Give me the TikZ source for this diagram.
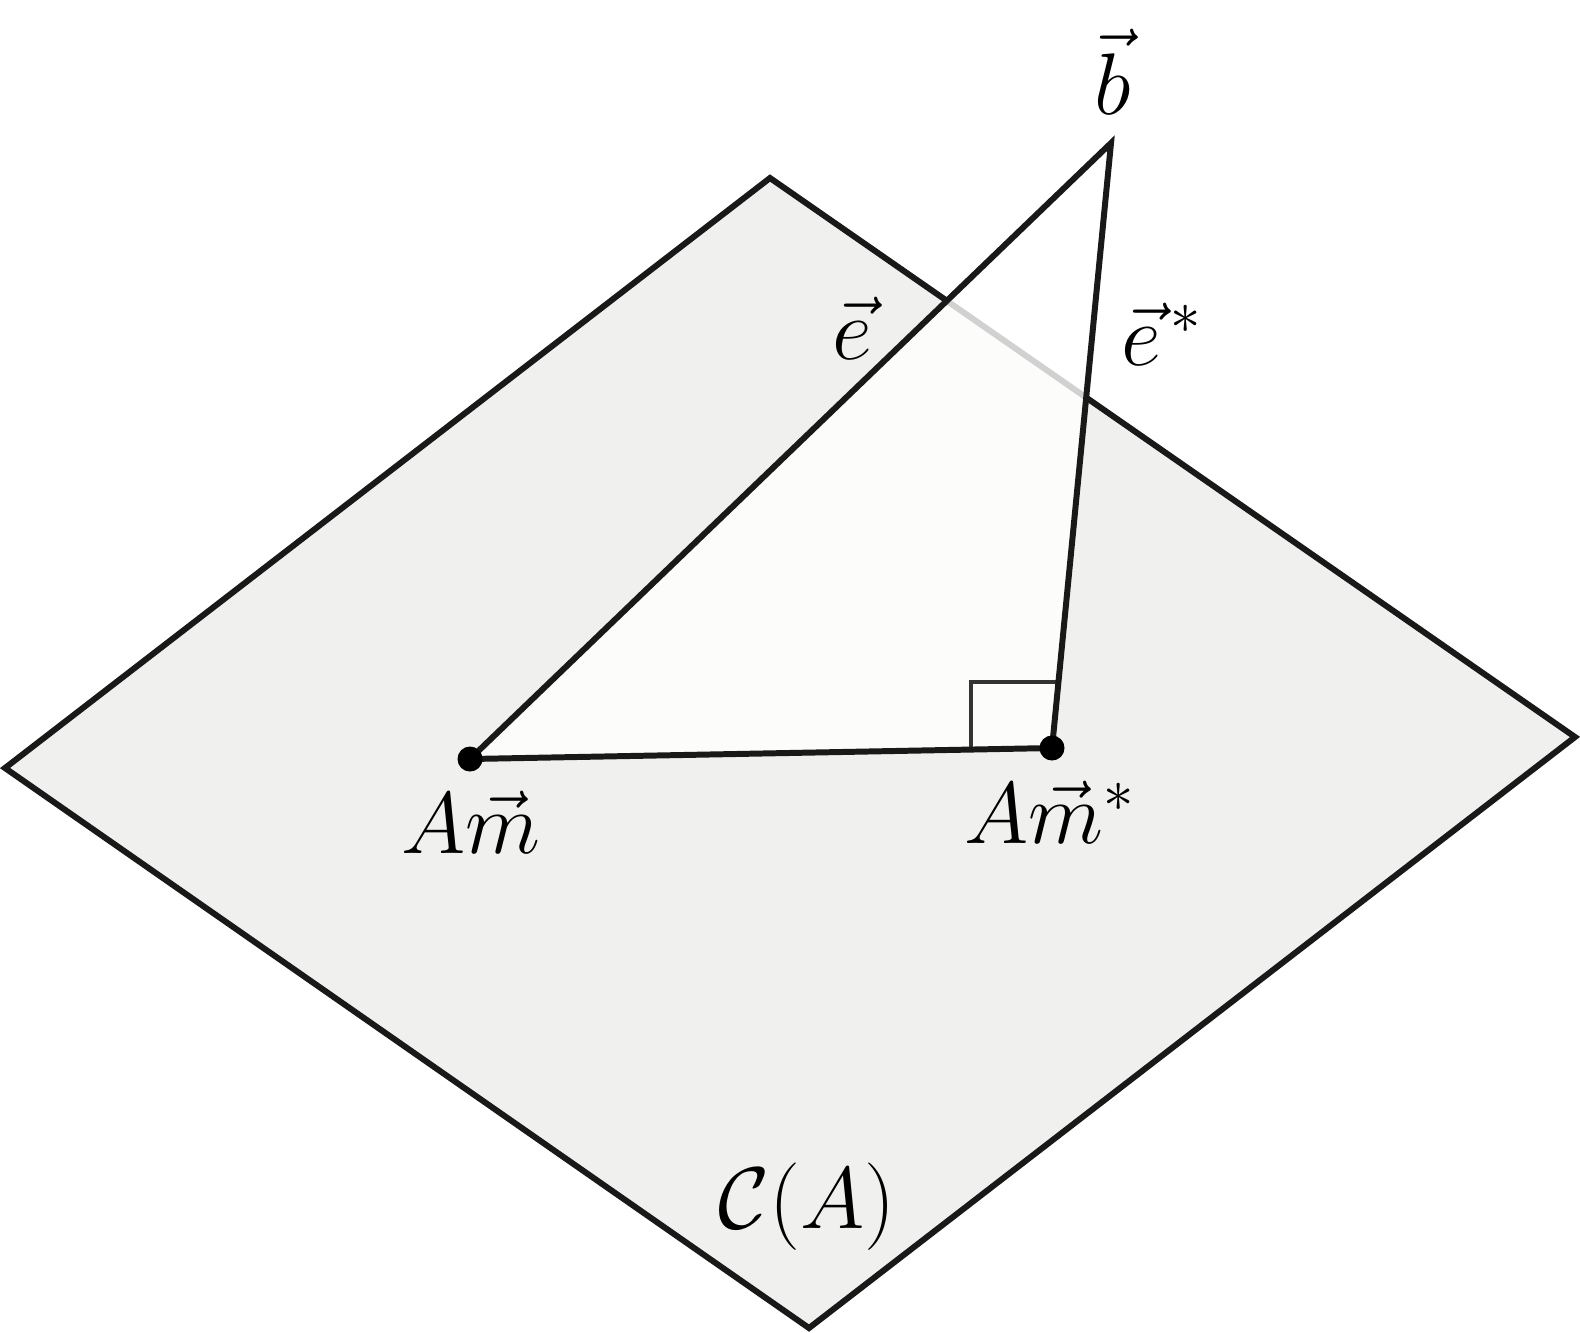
\documentclass[tikz,border=0pt]{standalone}
\begin{document}
\begin{tikzpicture}[x=0.01cm,y=-0.01cm,
  edge/.style={line width=1.7pt,draw=black!90,line join=miter},
  dot/.style={circle,fill=black,inner sep=0pt,minimum size=0.25cm},
  lbl/.style={font=\fontsize{23.5}{28}\selectfont,inner sep=0pt}]
\useasboundingbox (0,0) rectangle (1580,1332);
% plane
\coordinate (P1) at (5,768);
\coordinate (P2) at (770,178);
\coordinate (P3) at (1575,737);
\coordinate (P4) at (809,1328);
\filldraw[edge,fill={rgb,255:red,240;green,240;blue,239}] (P1) -- (P2) -- (P3) -- (P4) -- cycle;
% triangle
\coordinate (M) at (470,759);
\coordinate (MS) at (1052,748);
\coordinate (B) at (1111,143);
\fill[white,opacity=0.8] (M) -- (MS) -- (B) -- cycle;
% right angle mark
\coordinate (R1) at (971,748);
\coordinate (R2) at (971,682);
\coordinate (R3) at (1058,682);
\draw[line width=1pt,black!80] (R1) -- (R2) -- (R3);
\draw[edge,line cap=round] (M) -- (B) -- (MS);
\draw[edge] (M) -- (MS);
\node[dot] (m) at (M) {};
\node[dot] (ms) at (MS) {};
% labels
\node[lbl] (lm) at (471,822) {$A\vec{m}$};
\node[lbl] (lms) at (1050,812) {$A\vec{m}^*$};
\node[lbl] (lb) at (1113,72) {$\vec{b}$};
\node[lbl] (le) at (852,328) {$\vec{e}$};
\node[lbl] (les) at (1162,334) {$\vec{e}^{\,*}$};
\node[lbl] (lc) at (807,1207) {$\mathcal{C}(A)$};
\end{tikzpicture}
\end{document}
